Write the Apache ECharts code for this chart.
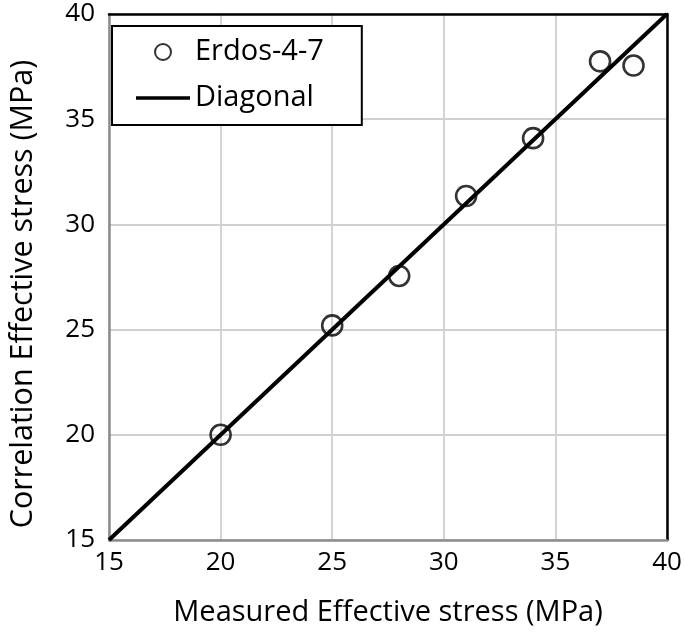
<!DOCTYPE html>
<html>
<head>
<meta charset="utf-8">
<script src="https://cdn.jsdelivr.net/npm/echarts@6/dist/echarts.min.js"></script>
<style>
  html, body { margin: 0; padding: 0; background: #fff; }
  #chart { width: 685px; height: 637px; }
</style>
</head>
<body>
<div id="chart"></div>
<script>
// measured vs correlation effective stress, MPa
const measured = [20, 25, 28, 31, 34, 37, 38.5];
const correlation = [20, 25.2, 27.55, 31.35, 34.1, 37.75, 37.55];
// 1:1 line end points
const diagX = [15, 40];
const diagY = [15, 40];
const axisTicks = [15, 20, 25, 30, 35, 40];

const font = "Open Sans";
const chart = echarts.init(document.getElementById("chart"));

const scatterData = measured.map((x, i) => [x, correlation[i]]);
const diagData = diagX.map((x, i) => [x, diagY[i]]);

// thin bar for the legend line, tiny corner specks keep the box 54x16
const lineIcon = "path://M0,6.3L54,6.3L54,9.7L0,9.7Z M0,0L0.05,0L0.05,0.05Z M54,16L53.95,16L53.95,15.95Z";

chart.setOption({
  animation: false,
  textStyle: { fontFamily: font, color: "#000" },
  grid: { left: 105, right: 18, top: 14, bottom: 97, containLabel: false },
  legend: {
    left: 112,
    top: 26,
    orient: "vertical",
    backgroundColor: "#fff",
    borderColor: "#000",
    borderWidth: 2,
    borderRadius: 0,
    padding: [9, 38, 10, 24],
    itemGap: 12,
    itemWidth: 54,
    itemHeight: 16,
    textStyle: { fontFamily: font, fontSize: 29, color: "#000", lineHeight: 34 },
    data: [
      { name: "Erdos-4-7", icon: "circle", itemStyle: { borderWidth: 2 } },
      { name: "Diagonal", icon: lineIcon },
    ],
  },
  xAxis: [
    {
      type: "value",
      min: axisTicks[0],
      max: axisTicks[axisTicks.length - 1],
      interval: 5,
      name: "Measured Effective stress (MPa)",
      nameLocation: "middle",
      nameGap: 58,
      nameTextStyle: { fontFamily: font, fontSize: 29, color: "#000" },
      axisLine: { lineStyle: { color: "#8c8c8c", width: 2.5 } },
      axisTick: { show: false },
      axisLabel: { fontFamily: font, fontSize: 26, color: "#000", margin: 10 },
      splitLine: { lineStyle: { color: "#d0d0d0", width: 1.8 } },
    },
    {
      type: "value",
      position: "top",
      min: 15,
      max: 40,
      interval: 5,
      axisLine: { onZero: false, lineStyle: { color: "#000", width: 2.5 } },
      axisTick: { show: false },
      axisLabel: { show: false },
      splitLine: { show: false },
    },
  ],
  yAxis: [
    {
      type: "value",
      min: axisTicks[0],
      max: axisTicks[axisTicks.length - 1],
      interval: 5,
      name: "Correlation Effective stress (MPa)",
      nameLocation: "middle",
      nameGap: 70,
      nameTextStyle: { fontFamily: font, fontSize: 30.5, color: "#000", padding: [0, 34, 0, 0] },
      axisLine: { onZero: false, lineStyle: { color: "#8c8c8c", width: 2.5 } },
      axisTick: { show: false },
      axisLabel: { fontFamily: font, fontSize: 26, color: "#000", margin: 14 },
      splitLine: { lineStyle: { color: "#d0d0d0", width: 1.8 } },
    },
    {
      type: "value",
      position: "right",
      min: 15,
      max: 40,
      interval: 5,
      axisLine: { show: true, onZero: false, lineStyle: { color: "#000", width: 2.5 } },
      axisTick: { show: false },
      axisLabel: { show: false },
      splitLine: { show: false },
    },
  ],
  series: [
    {
      name: "Diagonal",
      type: "line",
      data: diagData,
      symbol: "none",
      lineStyle: { color: "#000", width: 4 },
      itemStyle: { color: "#000" },
      z: 2,
    },
    {
      name: "Erdos-4-7",
      type: "scatter",
      data: scatterData,
      symbol: "circle",
      symbolSize: 20,
      itemStyle: { color: "rgba(255,255,255,0)", borderColor: "#000", borderWidth: 2.6 },
      z: 3,
    },
  ],
});
</script>
</body>
</html>
